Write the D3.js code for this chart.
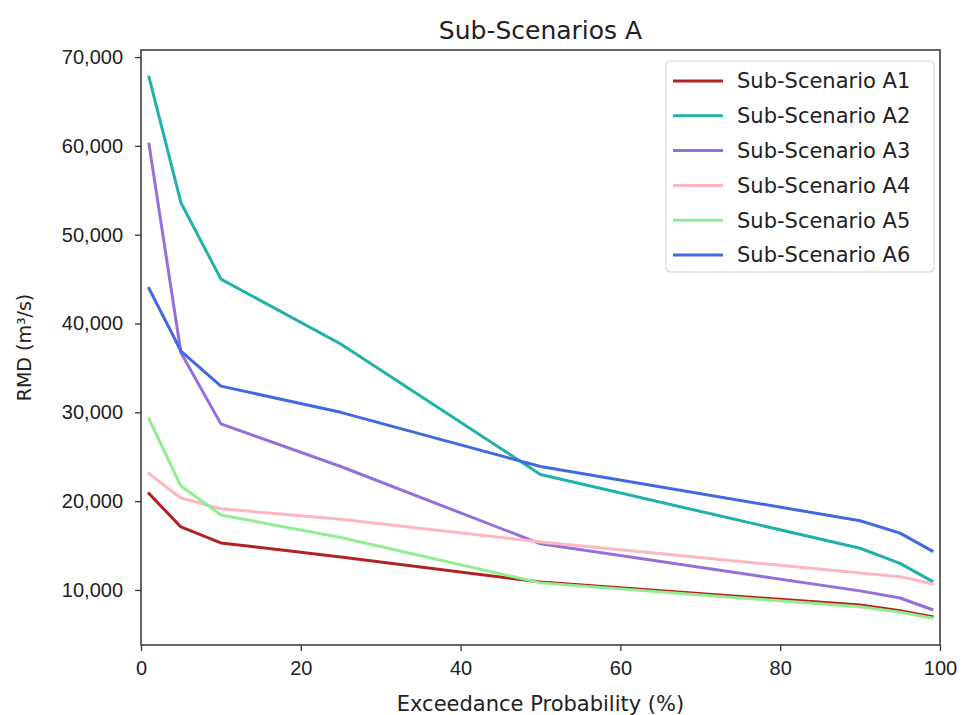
<!DOCTYPE html>
<html lang="en">
<head>
  <meta charset="UTF-8">
  <title>Sub-Scenarios A</title>
  <script src="https://cdn.jsdelivr.net/npm/d3@7"></script>
  <style>
    body {
      margin: 0;
      background: #fff;
      font-family: "DejaVu Sans", sans-serif;
    }

    .tick text {
      font-size: 20px;
      fill: #222;
    }
  </style>
</head>
<body>
<svg id="chart" width="962" height="715"></svg>
<script>
  const probs = [1, 5, 10, 25, 50, 90, 95, 99];

  const a1 = [20850, 17100, 15300, 13700, 10900, 8300, 7650, 7000];
  const a2 = [67750, 53600, 45000, 37700, 23000, 14700, 13000, 11000];
  const a3 = [60200, 36700, 28700, 23900, 15200, 9900, 9100, 7800];
  const a4 = [23100, 20350, 19150, 17950, 15400, 11900, 11500, 10700];
  const a5 = [29250, 21700, 18450, 15900, 10800, 8100, 7500, 6850];
  const a6 = [43950, 36900, 32950, 30000, 23900, 17800, 16400, 14400];

  const names = ["Sub-Scenario A1", "Sub-Scenario A2", "Sub-Scenario A3",
    "Sub-Scenario A4", "Sub-Scenario A5", "Sub-Scenario A6"];
  const colors = ["#b22222", "#20b2aa", "#9370db", "#ffb6c1", "#90ee90", "#4169e1"];
  const xTicks = [0, 20, 40, 60, 80, 100];
  const yTicks = [10000, 20000, 30000, 40000, 50000, 60000, 70000];

  const series = [a1, a2, a3, a4, a5, a6].map((v, i) => ({name: names[i], color: colors[i], values: v}));

  const svg = d3.select("#chart");
  const mLeft = 141, mRight = 940, mTop = 50, mBottom = 645;

  const x = d3.scaleLinear().domain([0, 100]).range([mLeft, mRight]);

  // matplotlib style 5% margin on y
  let lo = d3.min(series, s => d3.min(s.values)), hi = d3.max(series, s => d3.max(s.values));
  let pad = (hi - lo) * 0.05;
  const y = d3.scaleLinear().domain([lo - pad, hi + pad]).range([mBottom, mTop]);

  const line = d3.line()
      .x((d, i) => x(probs[i]))
      .y(d => y(d));

  svg.append("g")
      .selectAll("path")
      .data(series)
      .join("path")
      .attr("d", d => line(d.values))
      .attr("fill", "none")
      .attr("stroke", d => d.color)
      .attr("stroke-width", 3)
      .attr("stroke-linejoin", "round")
      .attr("stroke-linecap", "square");

  // axes
  let xAxis = svg.append("g")
      .attr("transform", `translate(0,${mBottom})`)
      .call(d3.axisBottom(x).tickValues(xTicks).tickSize(6).tickPadding(10).tickFormat(d3.format("d")));

  let yAxis = svg.append("g")
      .attr("transform", `translate(${mLeft},0)`)
      .call(d3.axisLeft(y).tickValues(yTicks).tickSize(6).tickPadding(12).tickFormat(d3.format(",")));

  [xAxis, yAxis].forEach(a => {
    a.select(".domain").remove();
    a.selectAll(".tick line").attr("stroke", "#333").attr("stroke-width", 1.3);
  });

  svg.append("rect")
      .attr("x", mLeft)
      .attr("y", mTop)
      .attr("width", mRight - mLeft)
      .attr("height", mBottom - mTop)
      .attr("fill", "none")
      .attr("stroke", "#333")
      .attr("stroke-width", 1.5);

  svg.append("text")
      .attr("x", (mLeft + mRight) / 2)
      .attr("y", 39)
      .attr("text-anchor", "middle")
      .attr("font-size", 25)
      .attr("fill", "#222")
      .text("Sub-Scenarios A");

  svg.append("text")
      .attr("x", (mLeft + mRight) / 2)
      .attr("y", 711)
      .attr("text-anchor", "middle")
      .attr("font-size", 21)
      .attr("fill", "#222")
      .text("Exceedance Probability (%)");

  svg.append("text")
      .attr("transform", `translate(31,${(mTop + mBottom) / 2}) rotate(-90)`)
      .attr("text-anchor", "middle")
      .attr("font-size", 19)
      .attr("fill", "#222")
      .text("RMD (m³/s)");

  // legend
  let legend = svg.append("g").attr("transform", "translate(666,61)");
  legend.append("rect")
      .attr("width", 268)
      .attr("height", 211)
      .attr("rx", 4)
      .attr("fill", "#fff")
      .attr("fill-opacity", 0.8)
      .attr("stroke", "#d0d0d0")
      .attr("stroke-width", 1);

  let rows = legend.selectAll("g.row")
      .data(series)
      .join("g")
      .attr("class", "row")
      .attr("transform", (d, i) => `translate(0,${20 + i * 34.8})`);

  rows.append("line")
      .attr("x1", 7)
      .attr("x2", 57)
      .attr("stroke", d => d.color)
      .attr("stroke-width", 3);

  rows.append("text")
      .attr("x", 71)
      .attr("dy", "0.35em")
      .attr("font-size", 21)
      .attr("fill", "#222")
      .text(d => d.name);
</script>
</body>
</html>
